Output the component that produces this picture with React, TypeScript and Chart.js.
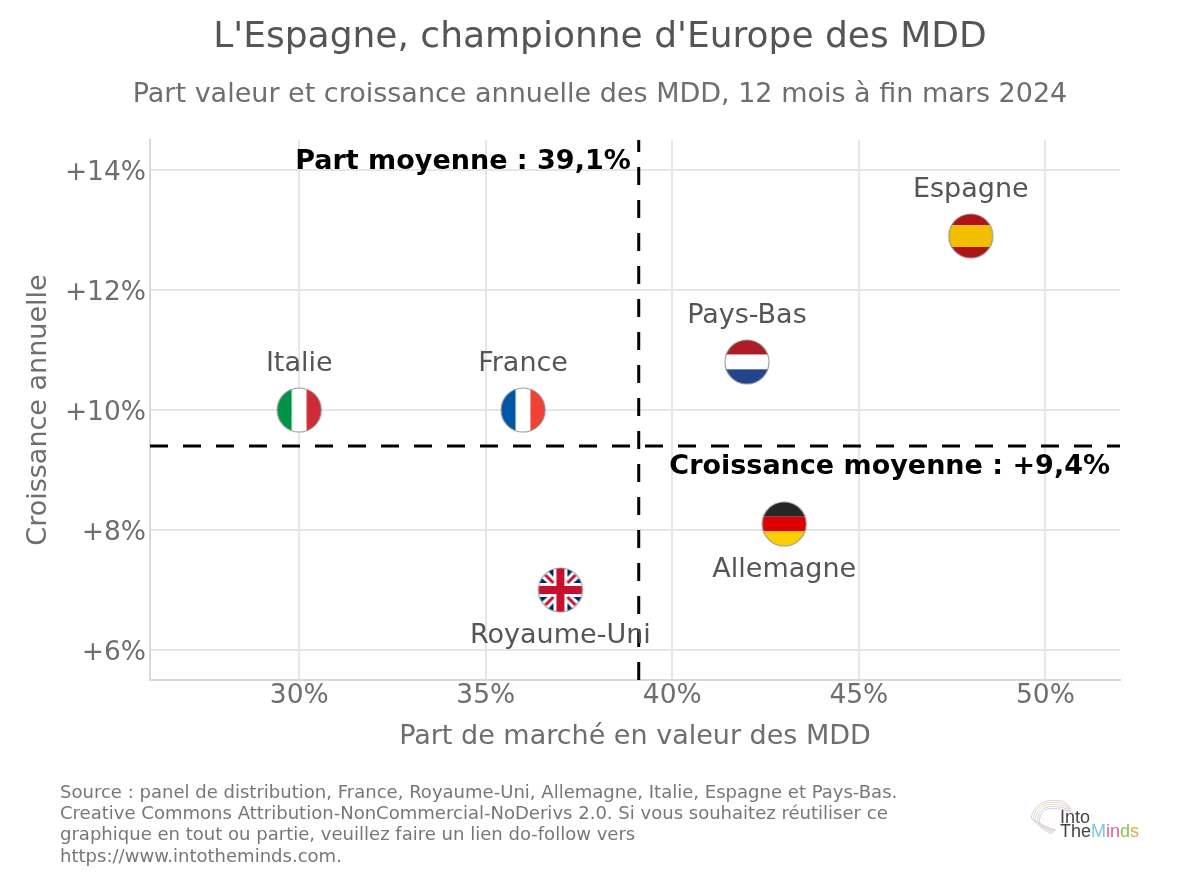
import { useEffect, useRef } from 'react';
import { Chart, registerables } from 'chart.js';

Chart.register(...registerables);

const FONT = '"DejaVu Sans", sans-serif';

const countries = ['Espagne', 'Pays-Bas', 'Italie', 'France', 'Allemagne', 'Royaume-Uni'];
const marketShare = [48, 42, 30, 36, 43, 37];
const growth = [12.9, 10.8, 10, 10, 8.1, 7];
const labelBelow = [false, false, false, false, true, true];

const avgShare = 39.1;
const avgGrowth = 9.4;

const xTicks = [30, 35, 40, 45, 50];
const yTicks = [6, 8, 10, 12, 14];

const sourceLines = [
    'Source : panel de distribution, France, Royaume-Uni, Allemagne, Italie, Espagne et Pays-Bas.',
    'Creative Commons Attribution-NonCommercial-NoDerivs 2.0. Si vous souhaitez réutiliser ce',
    'graphique en tout ou partie, veuillez faire un lien do-follow vers',
    'https://www.intotheminds.com.',
];

// bandes des drapeaux : [couleur, poids]
const flagStripes: Record<string, { vertical: boolean; bands: [string, number][] }> = {
    Espagne: { vertical: false, bands: [['#ad1519', 1], ['#f1bf00', 2], ['#ad1519', 1]] },
    'Pays-Bas': { vertical: false, bands: [['#ae1c28', 1], ['#ffffff', 1], ['#21468b', 1]] },
    Italie: { vertical: true, bands: [['#009246', 1], ['#ffffff', 1], ['#ce2b37', 1]] },
    France: { vertical: true, bands: [['#0055a4', 1], ['#ffffff', 1], ['#ef4135', 1]] },
    Allemagne: { vertical: false, bands: [['#262626', 1], ['#dd0000', 1], ['#ffce00', 1]] },
};

function drawUnion(ctx: CanvasRenderingContext2D, r: number) {
    ctx.fillStyle = '#ffffff';
    ctx.fillRect(-r, -r, r * 2, r * 2);
    ;[[-1, -1], [1, -1], [-1, 1], [1, 1]].forEach(([sx, sy]) => {
        ctx.fillStyle = '#012169';
        ctx.beginPath();
        ctx.moveTo(sx * 7, sy * 23);
        ctx.lineTo(sx * 7, sy * 13);
        ctx.lineTo(sx * 16, sy * 23);
        ctx.fill();
        ctx.beginPath();
        ctx.moveTo(sx * 23, sy * 7);
        ctx.lineTo(sx * 13, sy * 7);
        ctx.lineTo(sx * 23, sy * 16);
        ctx.fill();
        ctx.strokeStyle = '#c8102e';
        ctx.lineWidth = 3;
        ctx.beginPath();
        ctx.moveTo(sx * 7, sy * 7);
        ctx.lineTo(sx * 15, sy * 15);
        ctx.stroke();
    });
    ctx.fillStyle = '#c8102e';
    ctx.fillRect(-r, -4, r * 2, 8);
    ctx.fillRect(-4, -r, 8, r * 2);
}

function makeFlag(country: string): HTMLCanvasElement {
    const r = 22;
    const size = 48;
    const cv = document.createElement('canvas');
    cv.width = size;
    cv.height = size;
    const ctx = cv.getContext('2d')!;
    ctx.translate(size / 2, size / 2);
    ctx.save();
    ctx.beginPath();
    ctx.arc(0, 0, r, 0, Math.PI * 2);
    ctx.clip();
    const flag = flagStripes[country];
    if (flag) {
        const total = flag.bands.reduce((s, b) => s + b[1], 0);
        let pos = -r;
        flag.bands.forEach(([color, w]) => {
            const len = (w / total) * r * 2;
            ctx.fillStyle = color;
            if (flag.vertical) ctx.fillRect(pos, -r, len, r * 2);
            else ctx.fillRect(-r, pos, r * 2, len);
            pos += len;
        });
    } else {
        drawUnion(ctx, r);
    }
    ctx.restore();
    ctx.beginPath();
    ctx.arc(0, 0, r, 0, Math.PI * 2);
    ctx.strokeStyle = 'rgba(140,140,140,0.85)';
    ctx.lineWidth = 1.2;
    ctx.stroke();
    return cv;
}

const textPlugin = {
    id: 'textPlugin',
    afterDraw(chart: Chart) {
        const { ctx, scales } = chart;
        const x = scales.x;
        const y = scales.y;
        ctx.save();
        ctx.textBaseline = 'middle';

        // noms des pays
        ctx.font = `27px ${FONT}`;
        ctx.fillStyle = '#555555';
        ctx.textAlign = 'center';
        countries.forEach((c, i) => {
            const py = y.getPixelForValue(growth[i]) + (labelBelow[i] ? 46 : -46);
            ctx.fillText(c, x.getPixelForValue(marketShare[i]), py);
        });

        // moyennes
        ctx.font = `bold 27px ${FONT}`;
        ctx.fillStyle = '#000000';
        ctx.textAlign = 'right';
        ctx.fillText('Part moyenne : 39,1%', x.getPixelForValue(avgShare) - 8, 162);
        ctx.fillText('Croissance moyenne : +9,4%', 1110, y.getPixelForValue(avgGrowth) + 21);

        // source
        ctx.font = `18.05px ${FONT}`;
        ctx.fillStyle = '#777777';
        ctx.textAlign = 'left';
        sourceLines.forEach((line, i) => ctx.fillText(line, 60, 793 + i * 21.3));

        // logo
        ctx.lineWidth = 1;
        const brain = ['#f0c4de', '#c9e6c4', '#f3dca8', '#bfdcf0', '#e0c4ea'];
        brain.forEach((color, i) => {
            ctx.strokeStyle = color;
            ctx.beginPath();
            ctx.moveTo(1031 + i * 2, 818 + i);
            ctx.quadraticCurveTo(1036 + i, 797 + i * 2, 1062 - i, 801 + i * 2);
            ctx.quadraticCurveTo(1072, 806 + i, 1071 - i, 812);
            ctx.moveTo(1031 + i * 2, 818 + i);
            ctx.quadraticCurveTo(1042, 830 - i, 1052 + i, 834 - i);
            ctx.stroke();
        });
        ctx.font = `18px "Liberation Sans", sans-serif`;
        ctx.textBaseline = 'alphabetic';
        ctx.fillStyle = '#444444';
        ctx.fillText('Into', 1060, 823);
        ctx.fillText('The', 1060, 837);
        let lx = 1060 + ctx.measureText('The').width;
        const letters: [string, string][] = [['M', '#7cc6dc'], ['i', '#e65c9c'], ['n', '#e65c9c'], ['d', '#8cc152'], ['s', '#e0a84a']];
        letters.forEach(([l, color]) => {
            ctx.fillStyle = color;
            ctx.fillText(l, lx, 837);
            lx += ctx.measureText(l).width;
        });
        ctx.restore();
    },
};

export default function App() {
    const chartRef = useRef<HTMLCanvasElement>(null);

    useEffect(() => {
        if (!chartRef.current) return;
        const chart = new Chart(chartRef.current, {
            type: 'scatter',
            data: {
                datasets: [
                    {
                        label: 'Pays',
                        data: countries.map((_, i) => ({ x: marketShare[i], y: growth[i] })),
                        pointStyle: countries.map(makeFlag),
                        pointRadius: 22,
                        order: 1,
                    },
                    {
                        label: 'Part moyenne',
                        data: [{ x: avgShare, y: 5.5 }, { x: avgShare, y: 14.5 }],
                        showLine: true,
                        borderColor: '#000000',
                        borderWidth: 3,
                        borderDash: [18, 15],
                        pointRadius: 0,
                        order: 2,
                    },
                    {
                        label: 'Croissance moyenne',
                        data: [{ x: 26, y: avgGrowth }, { x: 52, y: avgGrowth }],
                        showLine: true,
                        borderColor: '#000000',
                        borderWidth: 3,
                        borderDash: [18, 15],
                        pointRadius: 0,
                        order: 2,
                    },
                ],
            },
            plugins: [textPlugin],
            options: {
                responsive: false,
                animation: false,
                layout: { padding: 0 },
                plugins: {
                    legend: { display: false },
                    tooltip: { enabled: false },
                    title: {
                        display: true,
                        text: "L'Espagne, championne d'Europe des MDD",
                        color: '#555555',
                        font: { family: FONT, size: 36, weight: 'normal', lineHeight: '42px' },
                        padding: { top: 17, bottom: 20 },
                    },
                    subtitle: {
                        display: true,
                        text: 'Part valeur et croissance annuelle des MDD, 12 mois à fin mars 2024',
                        color: '#6e6e6e',
                        font: { family: FONT, size: 27, weight: 'normal', lineHeight: '32px' },
                        padding: { top: 0, bottom: 29 },
                    },
                },
                scales: {
                    x: {
                        type: 'linear',
                        min: 26,
                        max: 52,
                        afterBuildTicks: (axis) => {
                            axis.ticks = xTicks.map((value) => ({ value }));
                        },
                        afterFit: (axis) => {
                            axis.height = 205;
                        },
                        grid: { color: '#e6e6e6', lineWidth: 2, drawTicks: false },
                        border: { color: '#d9d9d9', width: 2 },
                        ticks: {
                            color: '#6e6e6e',
                            font: { family: FONT, size: 26.5 },
                            padding: 0,
                            maxRotation: 0,
                            callback: (value) => `${value}%`,
                        },
                        title: {
                            display: true,
                            text: 'Part de marché en valeur des MDD',
                            color: '#6e6e6e',
                            font: { family: FONT, size: 27 },
                            padding: { top: 8, bottom: 132 },
                        },
                    },
                    y: {
                        type: 'linear',
                        min: 5.5,
                        max: 14.5,
                        afterBuildTicks: (axis) => {
                            axis.ticks = yTicks.map((value) => ({ value }));
                        },
                        afterFit: (axis) => {
                            axis.width = 150;
                        },
                        grid: { color: '#e6e6e6', lineWidth: 2, drawTicks: false },
                        border: { color: '#d9d9d9', width: 2 },
                        ticks: {
                            color: '#6e6e6e',
                            // ligne vide + interligne de 6px : descend le libellé de 3px
                            font: { family: FONT, size: 26.5, lineHeight: '6px' },
                            padding: 4,
                            callback: (value) => ['', `+${value}%`],
                        },
                        title: {
                            display: true,
                            text: 'Croissance annuelle',
                            color: '#6e6e6e',
                            font: { family: FONT, size: 27 },
                            padding: { top: 23, bottom: 0 },
                        },
                    },
                    // axe vide : garde la marge droite sans décentrer le titre
                    spacer: {
                        type: 'linear',
                        position: 'right',
                        afterFit: (axis) => {
                            axis.width = 80;
                        },
                        grid: { display: false },
                        border: { display: false },
                        ticks: { display: false },
                    },
                },
            },
        });
        return () => chart.destroy();
    }, []);

    return (
        <div style={{ position: 'absolute', left: 0, top: 0, width: 1200, height: 885, background: '#ffffff' }}>
            <canvas ref={chartRef} width={1200} height={885} style={{ display: 'block' }}></canvas>
        </div>
    );
}
